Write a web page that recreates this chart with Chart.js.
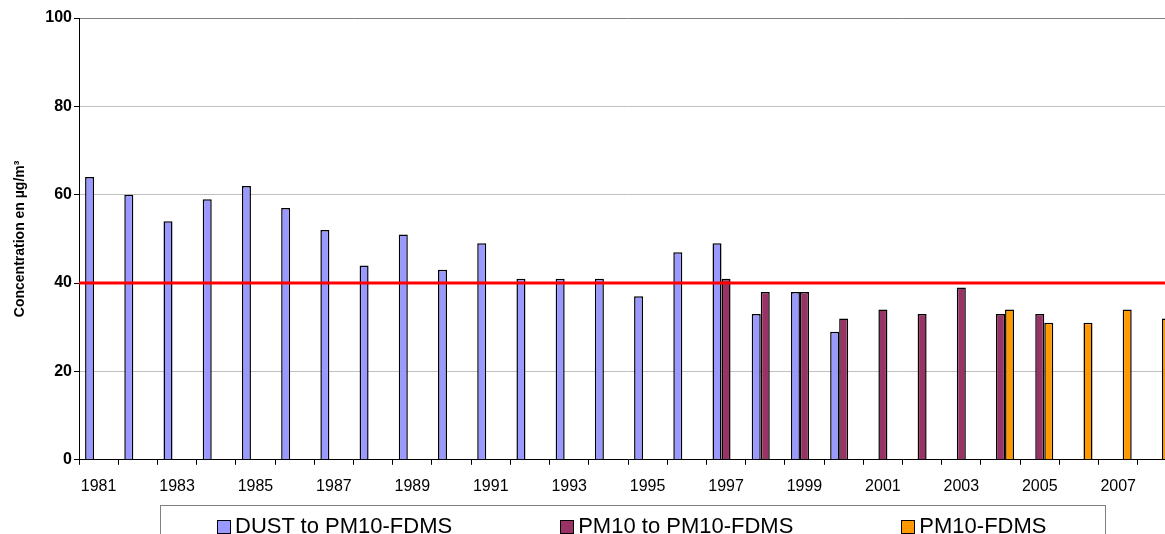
<!DOCTYPE html>
<html>
<head>
<meta charset="utf-8">
<script src="https://cdn.jsdelivr.net/npm/chart.js@4/dist/chart.umd.min.js"></script>
<style>
  body { margin: 0; overflow: hidden; background: #fff; font-family: "Liberation Sans", Arial, sans-serif; }
  #wrap { position: relative; width: 1184px; height: 534px; }
  #legend {
    position: absolute; left: 160px; top: 505px; width: 946px; height: 40px;
    border: 1px solid #808080; box-sizing: border-box;
    display: flex; gap: 108px; padding: 1px 0 0 56px; font-size: 22px; line-height: 22px;
  }
  #legend span.item { display: inline-flex; align-items: center; white-space: nowrap; }
  #legend span.box { width: 12px; height: 12px; border: 1px solid #000; margin-right: 4px; margin-top: 2px; }
</style>
</head>
<body>
<div id="wrap">
  <canvas id="chart" width="1184" height="534"></canvas>
  <div id="legend"></div>
</div>
<script>
const years = ['1981','1982','1983','1984','1985','1986','1987','1988','1989','1990',
  '1991','1992','1993','1994','1995','1996','1997','1998','1999','2000',
  '2001','2002','2003','2004','2005','2006','2007','2008'];

const dustToFdms = [64, 60, 54, 59, 62, 57, 52, 44, 51, 43,
  49, 41, 41, 41, 37, 47, 49, 33, 38, 29,
  null, null, null, null, null, null, null, null];

const pm10ToFdms = [null, null, null, null, null, null, null, null, null, null,
  null, null, null, null, null, null, 41, 38, 38, 32,
  34, 33, 39, 33, 33, null, null, null];

const pm10Fdms = [null, null, null, null, null, null, null, null, null, null,
  null, null, null, null, null, null, null, null, null, null,
  null, null, null, 34, 31, 31, 34, 32];

const yTicks = [0, 20, 40, 60, 80, 100];
const limitValue = 40;

// red limit line across the plot
const limitLine = {
  id: 'limitLine',
  afterDatasetsDraw(chart) {
    const { ctx, chartArea, scales } = chart;
    const y = scales.y.getPixelForValue(limitValue);
    ctx.save();
    ctx.strokeStyle = '#ff0000';
    ctx.lineWidth = 3;
    ctx.beginPath();
    ctx.moveTo(chartArea.left, y);
    ctx.lineTo(chartArea.right, y);
    ctx.stroke();
    ctx.restore();
  }
};

const ctx = document.getElementById('chart').getContext('2d');
const chart = new Chart(ctx, {
  type: 'bar',
  data: {
    labels: years,
    datasets: [
      { label: 'DUST to PM10-FDMS', data: dustToFdms, backgroundColor: '#9999ff' },
      { label: 'PM10 to PM10-FDMS', data: pm10ToFdms, backgroundColor: '#993366' },
      { label: 'PM10-FDMS', data: pm10Fdms, backgroundColor: '#ff9900' }
    ]
  },
  options: {
    responsive: false,
    animation: false,
    categoryPercentage: 0.69,
    barPercentage: 1,
    datasets: { bar: { borderColor: '#000', borderWidth: 1.5, borderSkipped: 'bottom' } },
    layout: { padding: { top: 18, right: 7, bottom: 26, left: 0 } },
    plugins: { legend: { display: false }, tooltip: { enabled: false } },
    scales: {
      x: {
        grid: { drawOnChartArea: false, offset: true, tickLength: 5, color: '#000' },
        border: { color: '#000', width: 1 },
        ticks: {
          autoSkip: false, maxRotation: 0, padding: 12, color: '#000',
          font: { family: 'Liberation Sans', size: 16 },
          callback: function (v, i) { return i % 2 === 0 ? this.getLabelForValue(v) : ''; }
        }
      },
      y: {
        min: 0, max: 100,
        afterBuildTicks(scale) { scale.ticks = yTicks.map(v => ({ value: v })); },
        afterFit(scale) { scale.width = 79; },
        grid: { color: c => c.tick.value === 100 ? '#808080' : '#c0c0c0', tickLength: 5, tickColor: '#000' },
        border: { color: '#000', width: 1 },
        ticks: { padding: 2, color: '#000', font: { family: 'Liberation Sans', size: 16, weight: 'bold' } },
        title: {
          display: true, text: 'Concentration en µg/m³', color: '#000',
          font: { family: 'Liberation Sans', size: 14, weight: 'bold' },
          padding: { top: 12, bottom: 0 }
        }
      }
    }
  },
  plugins: [limitLine]
});

// html legend built from the datasets
const legendEl = document.getElementById('legend');
chart.data.datasets.forEach(ds => {
  const item = document.createElement('span');
  item.className = 'item';
  const box = document.createElement('span');
  box.className = 'box';
  box.style.background = ds.backgroundColor;
  item.appendChild(box);
  item.appendChild(document.createTextNode(ds.label));
  legendEl.appendChild(item);
});
</script>
</body>
</html>
